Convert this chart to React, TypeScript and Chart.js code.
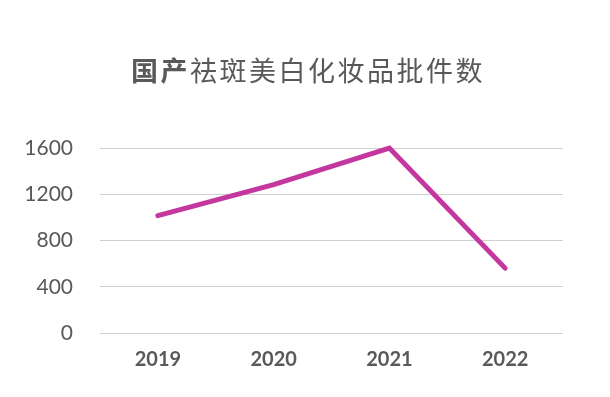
import React, { useEffect, useRef } from "react";
import { Chart, registerables } from "chart.js";

Chart.register(...registerables);

const categories = ["2019", "2020", "2021", "2022"];
const approvals = [1015, 1283, 1600, 561];
const yTicks = [0, 400, 800, 1200, 1600];

export default function App() {
  const ref = useRef<HTMLCanvasElement | null>(null);

  useEffect(() => {
    if (!ref.current) return;
    const chart = new Chart(ref.current, {
      type: "line",
      data: {
        labels: categories,
        datasets: [
          {
            data: approvals,
            borderColor: "#C4379E",
            backgroundColor: "#C4379E",
            borderWidth: 5,
            borderCapStyle: "round",
            borderJoinStyle: "miter",
            pointRadius: 0,
            tension: 0,
            clip: false,
          },
        ],
      },
      options: {
        animation: false,
        responsive: false,
        maintainAspectRatio: false,
        layout: { padding: { left: 0, right: 47, top: 148, bottom: 0 } },
        plugins: { legend: { display: false }, tooltip: { enabled: false }, title: { display: false } },
        scales: {
          x: {
            offset: true,
            grid: { display: false, drawTicks: false },
            border: { display: false },
            ticks: {
              color: "#595959",
              font: { family: "Lato", size: 20, weight: "bold" },
              padding: 15,
              maxRotation: 0,
            },
            afterFit: (s: any) => {
              s.height = 64;
            },
          },
          y: {
            min: 0,
            max: 1600,
            afterBuildTicks: (s: any) => {
              s.ticks = yTicks.map((v) => ({ value: v }));
            },
            grid: { color: "#D0D0D0", lineWidth: 1, drawTicks: false },
            border: { display: false },
            ticks: {
              color: "#595959",
              font: { family: "Lato", size: 21 },
              padding: 27,
              callback: (v: any) => String(v),
            },
            afterFit: (s: any) => {
              s.width = 100;
            },
          },
        },
      },
    });
    return () => chart.destroy();
  }, []);

  return (
    <div style={{ position: "absolute", left: 0, top: 0, width: 610, height: 397, background: "#fff" }}>
      <canvas ref={ref} width={610} height={397} style={{ position: "absolute", left: 0, top: 0 }} />
      <div
        style={{
          position: "absolute",
          left: 0,
          top: 52,
          width: 610,
          textAlign: "center",
          fontFamily: "'Noto Sans CJK SC', sans-serif",
          fontSize: 27,
          lineHeight: "36px",
          letterSpacing: 2.5,
          color: "#595959",
          paddingLeft: 6,
          boxSizing: "border-box",
        }}
      >
        <span style={{ fontWeight: "bold" }}>国产</span>
        <span>祛斑美白化妆品批件数</span>
      </div>
    </div>
  );
}
